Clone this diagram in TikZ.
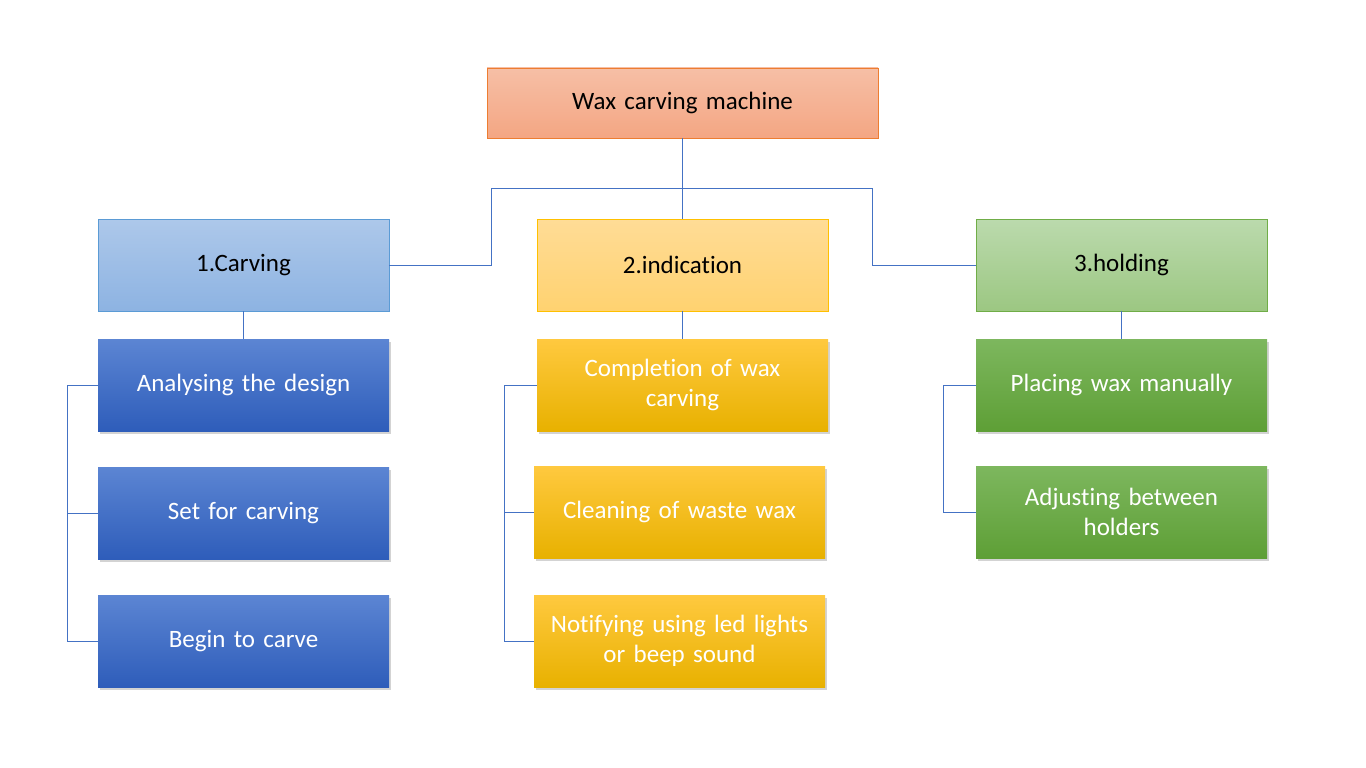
\documentclass[tikz,border=0pt]{standalone}
\usepackage{fontspec}
\setmainfont{Carlito}[Ligatures=NoCommon]
\usetikzlibrary{shadows}
\definecolor{WAX-ORANGE}{RGB}{237,125,49}
\definecolor{WAX-BLUE}{RGB}{68,114,196}
\definecolor{WAX-SKY}{RGB}{91,155,213}
\definecolor{WAX-GOLD}{RGB}{255,192,0}
\definecolor{WAX-GREEN}{RGB}{112,173,71}

\begin{document}
\begin{tikzpicture}[x=1pt,y=-1pt,
  box/.style={minimum width=291pt, minimum height=92pt, inner sep=2pt,
    text width=285pt, align=center, font=\fontsize{25}{30}\selectfont},
  head/.style={box, draw=#1, line width=0.8pt},
  leaf/.style={box, text=white, drop shadow={shadow xshift=2pt, shadow yshift=-3pt, opacity=0.35}},
  link/.style={draw=WAX-BLUE, line width=0.9pt}]
  \useasboundingbox (0,0) rectangle (1366,768);

  % Root
  \node[head=WAX-ORANGE, minimum width=391pt, minimum height=70pt,
    top color={rgb,255:red,246;green,191;blue,166}, bottom color={rgb,255:red,244;green,166;blue,131}]
    (root) at (682.5,103) {Wax carving machine};

  % Branches
  \node[head=WAX-SKY, top color={rgb,255:red,173;green,200;blue,234}, bottom color={rgb,255:red,141;green,179;blue,226}]
    (carv) at (243.5,265) {1.Carving};
  \node[head=WAX-GOLD, top color={rgb,255:red,255;green,220;blue,150}, bottom color={rgb,255:red,255;green,210;blue,112}]
    (ind) at (682.5,265) {2.indication};
  \node[head=WAX-GREEN, top color={rgb,255:red,187;green,218;blue,173}, bottom color={rgb,255:red,156;green,199;blue,130}]
    (hold) at (1121.5,265) {3.holding};

  % Carving steps
  \tikzset{bluefill/.style={leaf, top color={rgb,255:red,92;green,133;blue,211}, bottom color={rgb,255:red,46;green,93;blue,186}}}
  \node[bluefill] (carv1) at (243.5,385) {Analysing the design};
  \node[bluefill] (carv2) at (243.5,513) {Set for carving};
  \node[bluefill] (carv3) at (243.5,641) {Begin to carve};

  % Indication steps
  \tikzset{goldfill/.style={leaf, top color={rgb,255:red,255;green,201;blue,63}, middle color=WAX-GOLD, bottom color={rgb,255:red,232;green,177;blue,0}}}
  \node[goldfill] (ind1) at (682.5,385) {Completion of wax\\carving};
  \node[goldfill] (ind2) at (679.5,512) {Cleaning of waste wax};
  \node[goldfill] (ind3) at (679.5,641) {Notifying using led lights\\or beep sound};

  % Holding steps
  \tikzset{greenfill/.style={leaf, top color={rgb,255:red,125;green,183;blue,94}, bottom color={rgb,255:red,94;green,159;blue,54}}}
  \node[greenfill] (hold1) at (1121.5,385) {Placing wax manually};
  \node[greenfill] (hold2) at (1121.5,512) {Adjusting between\\holders};

  % Connectors from root
  \coordinate (busL) at (491,188);
  \coordinate (busR) at (872,188);
  \draw[link] (root.south) -- (ind.north);
  \draw[link] (carv.east) -- (carv.east -| busL) -- (busL) -- (busR) -- (busR |- hold.west) -- (hold.west);

  % Connectors to steps
  \draw[link] (carv.south) -- (carv1.north);
  \draw[link] (ind.south) -- (ind1.north);
  \draw[link] (hold.south) -- (hold1.north);

  \coordinate (carvbar) at (67,0);
  \coordinate (indbar) at (504,0);
  \coordinate (holdbar) at (943,0);
  \draw[link] (carv1.west) -- (carv1.west -| carvbar) -- (carv3.west -| carvbar) -- (carv3.west);
  \draw[link] (carv2.west) -- (carv2.west -| carvbar);
  \draw[link] (ind1.west) -- (ind1.west -| indbar) -- (ind3.west -| indbar) -- (ind3.west);
  \draw[link] (ind2.west) -- (ind2.west -| indbar);
  \draw[link] (hold1.west) -- (hold1.west -| holdbar) -- (hold2.west -| holdbar) -- (hold2.west);
\end{tikzpicture}
\end{document}
